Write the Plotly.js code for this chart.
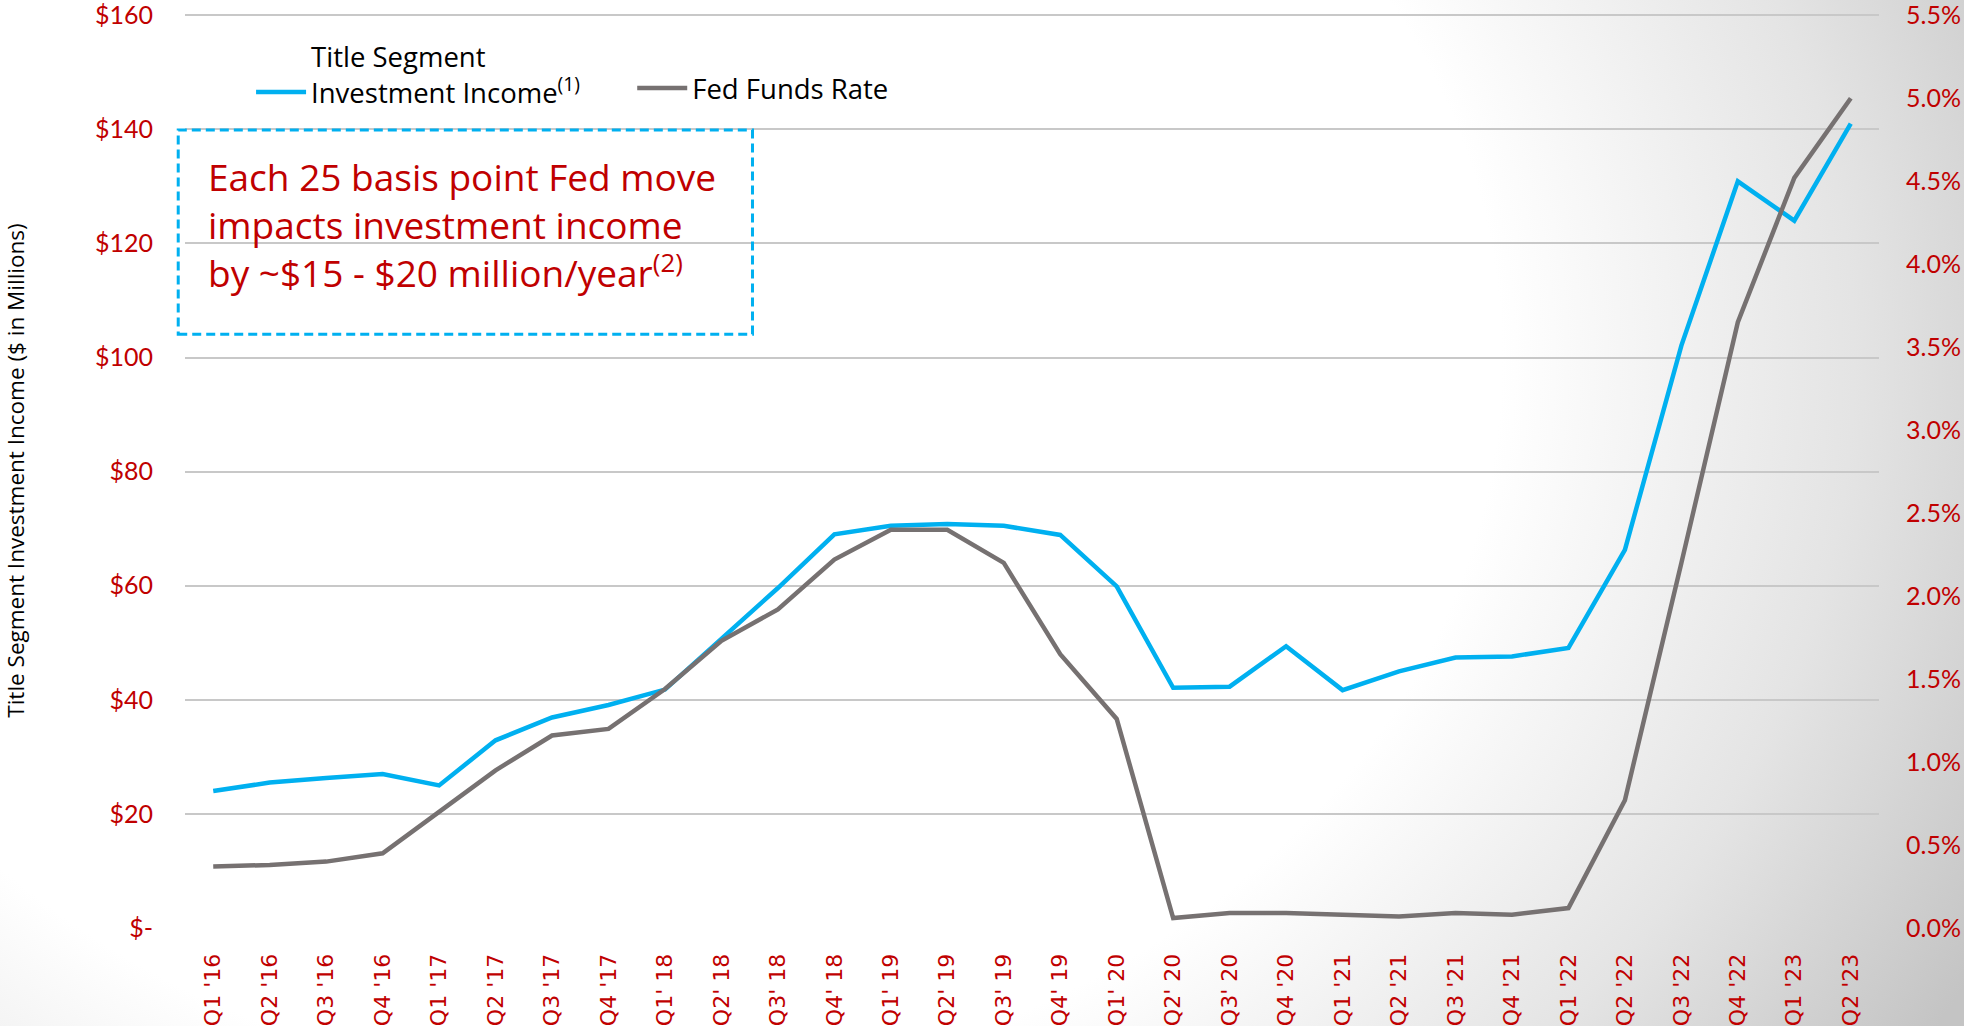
<!DOCTYPE html>
<html>
<head>
<meta charset="utf-8">
<script src="https://cdn.plot.ly/plotly-3.0.1.min.js"></script>
<style>
    html, body {
        margin: 0;
        padding: 0;
        width: 1964px;
        height: 1026px;
        overflow: hidden;
    }
    body {
        background: radial-gradient(ellipse 78% 125% at 32% 35%, #ffffff 0%, #ffffff 57%, #e4e4e4 80%, #c4c4c4 100%);
    }
    #chart {
        width: 1964px;
        height: 1026px;
    }
</style>
</head>
<body>
<div id="chart"></div>
<script>
// Quarters shown on the x axis (labels kept as they appear on the slide)
const quarters = [
    "Q1 '16", "Q2 '16", "Q3 '16", "Q4 '16",
    "Q1 '17", "Q2 '17", "Q3 '17", "Q4 '17",
    "Q1' 18", "Q2' 18", "Q3' 18", "Q4' 18",
    "Q1' 19", "Q2' 19", "Q3' 19", "Q4' 19",
    "Q1' 20", "Q2' 20", "Q3' 20", "Q4 '20",
    "Q1 '21", "Q2 '21", "Q3 '21", "Q4 '21",
    "Q1 '22", "Q2 '22", "Q3 '22", "Q4 '22",
    "Q1 '23", "Q2 '23"
];

// Title segment investment income, $ millions (left axis)
const investmentIncome = [
    24.0, 25.5, 26.3, 27.0,
    25.0, 32.9, 36.9, 39.1,
    41.8, 50.6, 59.6, 69.0,
    70.5, 70.8, 70.5, 68.9,
    59.9, 42.1, 42.3, 49.4,
    41.7, 45.0, 47.4, 47.6,
    49.1, 66.3, 102.1, 130.9,
    124.0, 141.0
];

// Fed funds rate, percent (right axis)
const fedFundsRate = [
    0.37, 0.38, 0.40, 0.45,
    0.70, 0.95, 1.16, 1.20,
    1.44, 1.73, 1.92, 2.22,
    2.40, 2.40, 2.20, 1.65,
    1.26, 0.06, 0.09, 0.09,
    0.08, 0.07, 0.09, 0.08,
    0.12, 0.77, 2.20, 3.65,
    4.52, 5.00
];

// Left axis ticks
const incomeTicks = [0, 20, 40, 60, 80, 100, 120, 140, 160];
const incomeTickText = ["$-", "$20", "$40", "$60", "$80", "$100", "$120", "$140", "$160"];

// Right axis ticks
const rateTicks = [0, 0.5, 1, 1.5, 2, 2.5, 3, 3.5, 4, 4.5, 5, 5.5];
const rateTickText = rateTicks.map(v => v.toFixed(1) + '%');

const RED = '#C00000';
const BLUE = '#00B0F0';
const GREY = '#767171';

// a little headroom so the top gridline ($160 / 5.5%) is not clipped
const INCOME_MAX = 160.4;
const RATE_MAX = 5.5 * INCOME_MAX / 160;

if (document.readyState !== 'loading') {
    drawChart();
} else {
    document.addEventListener("DOMContentLoaded", drawChart);
}

function drawChart() {
    const container = document.getElementById('chart');

    const traces = [
        {
            x: quarters,
            y: investmentIncome,
            name: 'Title Segment<br>Investment Income<sup>(1)</sup>',
            type: 'scatter',
            mode: 'lines',
            line: { color: BLUE, width: 4.5 },
            yaxis: 'y',
            legend: 'legend'
        },
        {
            x: quarters,
            y: fedFundsRate,
            name: 'Fed Funds Rate',
            type: 'scatter',
            mode: 'lines',
            line: { color: GREY, width: 4.5 },
            yaxis: 'y2',
            legend: 'legend2'
        }
    ];

    const legendFont = { family: '"Open Sans", sans-serif', size: 27.5, color: '#000000' };

    const layout = {
        width: 1964,
        height: 1026,
        paper_bgcolor: 'rgba(0,0,0,0)',
        plot_bgcolor: 'rgba(0,0,0,0)',
        margin: { l: 185, r: 85, t: 13, b: 98 },
        font: { family: 'Lato, "Open Sans", sans-serif', color: '#000000' },
        showlegend: true,
        xaxis: {
            type: 'category',
            range: [-0.5, quarters.length - 0.5],
            showgrid: false,
            zeroline: false,
            showline: false,
            ticks: 'outside',
            ticklen: 16,
            tickcolor: 'rgba(0,0,0,0)',
            tickangle: -90,
            tickfont: { family: '"DejaVu Sans", Verdana, sans-serif', size: 22, color: RED }
        },
        yaxis: {
            range: [0, INCOME_MAX],
            tickvals: incomeTicks,
            ticktext: incomeTickText,
            ticklabeloverflow: 'allow',
            showgrid: true,
            gridcolor: '#c8c8c8',
            gridwidth: 2,
            zeroline: false,
            showline: false,
            ticks: 'outside',
            ticklen: 26,
            tickcolor: 'rgba(0,0,0,0)',
            tickfont: { family: 'Lato, sans-serif', size: 25, color: RED },
            title: {
                text: 'Title Segment Investment Income ($ in Millions)',
                font: { family: '"Open Sans", sans-serif', size: 22.5, color: '#000000' },
                standoff: 64
            }
        },
        yaxis2: {
            overlaying: 'y',
            side: 'right',
            range: [0, RATE_MAX],
            tickvals: rateTicks,
            ticktext: rateTickText,
            ticklabeloverflow: 'allow',
            showgrid: false,
            zeroline: false,
            showline: false,
            ticks: 'outside',
            ticklen: 21,
            tickcolor: 'rgba(0,0,0,0)',
            tickfont: { family: 'Lato, sans-serif', size: 25, color: RED }
        },
        legend: {
            x: 0.039,
            y: 0.933,
            xanchor: 'left',
            yanchor: 'middle',
            valign: 'bottom',
            bgcolor: 'rgba(0,0,0,0)',
            font: legendFont,
            itemwidth: 50
        },
        legend2: {
            x: 0.264,
            y: 0.918,
            xanchor: 'left',
            yanchor: 'middle',
            bgcolor: 'rgba(0,0,0,0)',
            font: legendFont,
            itemwidth: 50
        },
        shapes: [
            {
                // dashed call-out box
                type: 'rect',
                xref: 'paper',
                yref: 'paper',
                x0: -0.004,
                x1: 0.335,
                y0: 0.649,
                y1: 0.872,
                line: { color: BLUE, width: 3, dash: '9px,5px' },
                fillcolor: 'rgba(0,0,0,0)'
            }
        ],
        annotations: [
            {
                xref: 'paper',
                yref: 'paper',
                x: 0.0125,
                y: 0.851,
                xanchor: 'left',
                yanchor: 'top',
                align: 'left',
                showarrow: false,
                text: 'Each 25 basis point Fed move<br>impacts investment income<br>by ~$15 - $20 million/year<sup>(2)</sup>',
                font: { family: '"Open Sans", sans-serif', size: 37, color: RED }
            }
        ]
    };

    Plotly.newPlot(container, traces, layout, { staticPlot: true })
        .catch((error) => {
            console.error('Error rendering plot:', error);
            container.innerHTML = '<p>Error rendering plot.</p>';
        });
}
</script>
</body>
</html>
